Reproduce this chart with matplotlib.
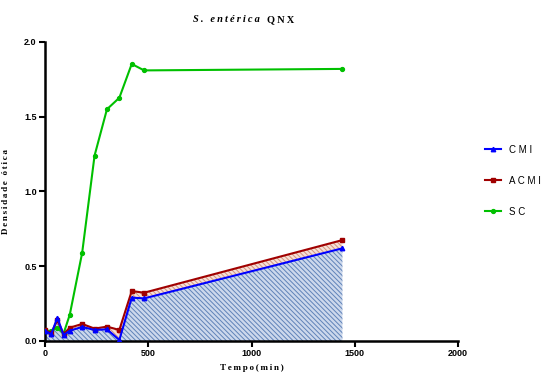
import numpy as np
import matplotlib
matplotlib.use("Agg")
import matplotlib.pyplot as plt

plt.rcParams['hatch.linewidth'] = 0.7

# --- Data ---
tempo = [0, 30, 60, 90, 120, 180, 240, 300, 360, 420, 480, 1440]
cmi = [0.069, 0.045, 0.156, 0.040, 0.069, 0.094, 0.074, 0.078, 0.007, 0.290, 0.285, 0.620]
acmi = [0.074, 0.051, 0.140, 0.047, 0.089, 0.114, 0.083, 0.096, 0.074, 0.334, 0.323, 0.675]
sc = [0.070, 0.067, 0.090, 0.050, 0.176, 0.590, 1.240, 1.550, 1.627, 1.853, 1.810, 1.820]

xticks = [0, 500, 1000, 1500, 2000]
yticks = [0.0, 0.5, 1.0, 1.5, 2.0]

sans = ['Liberation Sans', 'DejaVu Sans']
serif = ['Liberation Serif', 'DejaVu Serif']


def spaced(s, sep='\u2009'):
    return sep.join(s)


fig = plt.figure(figsize=(5.44, 3.73), dpi=100)
ax = fig.add_axes([0.0827, 0.0858, 0.7593, 0.8016])

# shaded areas
ax.fill_between(tempo, 0, cmi, facecolor='#ccd8ec', edgecolor='#5f82b8',
                hatch='\\' * 7, linewidth=0, zorder=1)
ax.fill_between(tempo, cmi, acmi, facecolor='#f5e0d6', edgecolor='#d39280',
                hatch='\\' * 7, linewidth=0, zorder=1)

ax.plot(tempo, cmi, color='#0000ff', marker='^', markersize=3.2, linewidth=1.5,
        label=spaced('CMI', ' '), zorder=4)
ax.plot(tempo, acmi, color='#a00000', marker='s', markersize=3, linewidth=1.5,
        label=spaced('ACMI', ' '), zorder=3)
ax.plot(tempo, sc, color='#00c000', marker='o', markersize=2.8, linewidth=1.5,
        label=spaced('SC', ' '), zorder=2)

ax.set_xlim(0, 2000)
ax.set_ylim(0, 2.0)
ax.set_xticks(xticks)
ax.set_yticks(yticks)
ax.set_xticklabels([str(v) for v in xticks], fontfamily=sans, fontweight='bold', fontsize=6.5)
ax.set_yticklabels(['%.1f' % v for v in yticks], fontfamily=sans, fontweight='bold', fontsize=6.5)
ax.tick_params(direction='out', length=4, width=1.5, pad=2)

for s in ['top', 'right']:
    ax.spines[s].set_visible(False)
for s in ['left', 'bottom']:
    ax.spines[s].set_linewidth(1.8)

ax.set_ylabel(spaced('Densidade ótica'), fontfamily=serif, fontweight='bold',
              fontsize=6.5, labelpad=10)
ax.set_xlabel(spaced('Tempo(min)'), fontfamily=serif, fontweight='bold',
              fontsize=6.5, labelpad=4)

# title: italic species name + bold strain
fig.text(0.478, 0.947, spaced('S. entérica'), fontfamily=serif, fontstyle='italic',
         fontweight='bold', fontsize=7.5, ha='right', va='center')
fig.text(0.490, 0.947, spaced('QNX'), fontfamily=serif, fontweight='bold',
         fontsize=7.5, ha='left', va='center')

leg = fig.legend(loc='upper left', bbox_to_anchor=(0.885, 0.622), frameon=False,
                 handlelength=1.6, labelspacing=2.15, borderaxespad=0,
                 prop={'family': sans, 'size': 7})

fig.savefig('out.png', dpi=100)
